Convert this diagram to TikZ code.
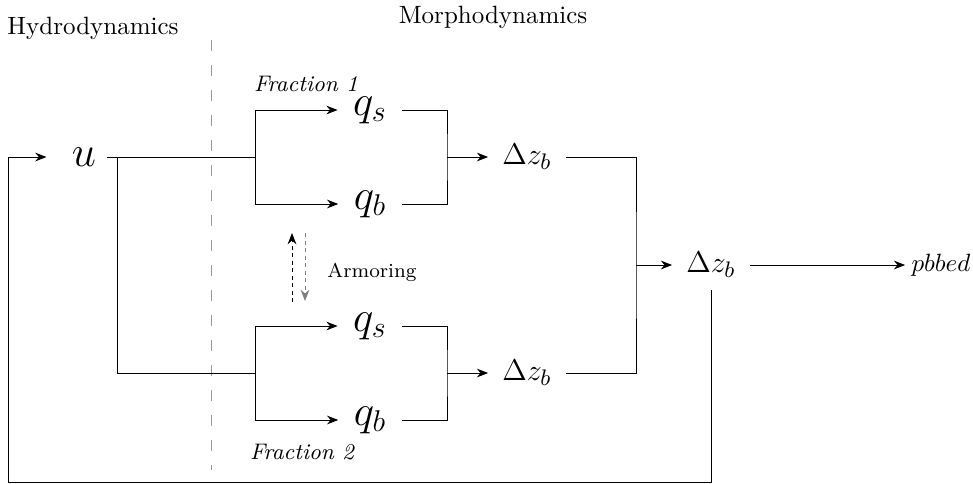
\documentclass[tikz,border=0pt]{standalone}
\usetikzlibrary{arrows.meta}
\begin{document}
\begin{tikzpicture}[x=0.4pt,y=-0.4pt, line width=0.4pt,
  arr/.style={-{Stealth[length=4.5pt,width=3.5pt]}},
  var/.style={inner xsep=6pt, inner ysep=5pt, font=\LARGE},
  dz/.style={inner xsep=5.5pt, inner ysep=4.5pt, font=\fontsize{13}{16}\selectfont},
  lbl/.style={inner sep=0pt},
  frac/.style={inner sep=0pt, font=\small\itshape},
  sep/.style={gray!80, dash pattern=on 4.4pt off 5.6pt},
  armdash/.style={dash pattern=on 1.6pt off 1.4pt}]
\useasboundingbox (0,0) rectangle (973,483);
% titles
\node[lbl] (hydro) at (93,28) {Hydrodynamics};
\node[lbl] (morpho) at (493,17) {Morphodynamics};
\coordinate (septop) at (211,40);
\coordinate (sepbot) at (211,470);
\draw[sep] (septop) -- (sepbot);
% nodes
\node[var, inner xsep=4pt] (u) at (84,157) {$u$};
\node[var] (qs1) at (370,110) {$q_s$};
\node[var] (qb1) at (370,204) {$q_b$};
\node[var] (qs2) at (370,326) {$q_s$};
\node[var] (qb2) at (370,420) {$q_b$};
\node[dz] (dz1) at (527,157) {$\Delta z_b$};
\node[dz] (dz2) at (527,373) {$\Delta z_b$};
\node[dz] (dzf) at (711,265) {$\Delta z_b$};
\node[inner xsep=2.4pt, inner ysep=0pt] (out) at (941,265) {$pbbed$};
\node[frac] (fr1) at (306,84) {Fraction 1};
\node[frac] (fr2) at (302,452) {Fraction 2};
\node[lbl, font=\footnotesize] (armor) at (372,272) {Armoring};
% junctions
\coordinate (b0) at (117,157);
\coordinate (f1) at (255,157);
\coordinate (f2) at (255,373);
\coordinate (j1) at (447,157);
\coordinate (j2) at (447,373);
\coordinate (j3) at (636,265);
\coordinate (fb) at (8,482);
\coordinate (a1b) at (292,302);
\coordinate (a1t) at (292,233);
\coordinate (a2t) at (305,233);
\coordinate (a2b) at (305,301);
% connectors
\draw (u.east) -- (f1);
\draw (b0) |- (f2);
\draw[arr] (f1) |- (qs1.west);
\draw[arr] (f1) |- (qb1.west);
\draw[arr] (f2) |- (qs2.west);
\draw[arr] (f2) |- (qb2.west);
\draw (qs1.east) -| (j1) |- (qb1.east);
\draw (qs2.east) -| (j2) |- (qb2.east);
\draw[arr] (j1) -- (dz1.west);
\draw[arr] (j2) -- (dz2.west);
\draw (dz1.east) -| (j3) |- (dz2.east);
\draw[arr] (j3) -- (dzf.west);
\draw[arr] (dzf.east) -- (out.west);
\draw[arr, shorten >=6pt] (dzf.south) |- (fb) |- (u.west);
\draw[arr, armdash] (a1b) -- (a1t);
\draw[arr, armdash, gray] (a2t) -- (a2b);
\end{tikzpicture}
\end{document}
